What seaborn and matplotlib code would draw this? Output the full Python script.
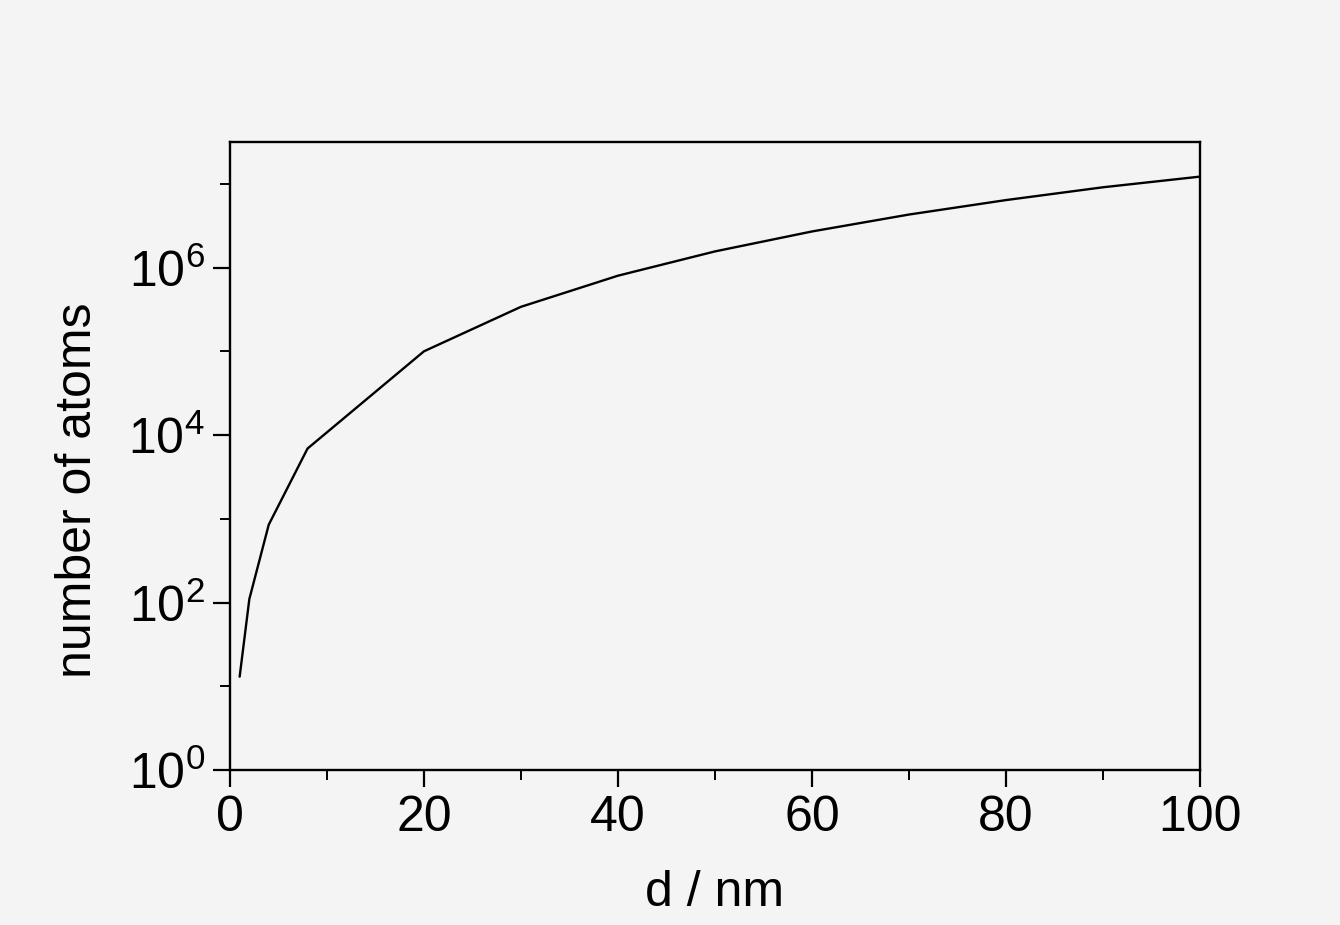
import seaborn as sns
import matplotlib
matplotlib.use('Agg')
import matplotlib.pyplot as plt
from matplotlib.ticker import LogLocator, FixedLocator, MultipleLocator, NullFormatter

# particle diameter (nm) and number of atoms
d_nm = [1, 2, 4, 8, 20, 30, 40, 50, 60, 70, 80, 90, 100]
n_atoms = [13, 110, 850, 6900, 1.0e5, 3.4e5, 8.0e5, 1.56e6, 2.7e6, 4.3e6, 6.4e6, 9.1e6, 1.22e7]

sns.set_style('ticks')
plt.rcParams['font.family'] = ['Liberation Sans', 'DejaVu Sans']
plt.rcParams['mathtext.fontset'] = 'custom'
plt.rcParams['mathtext.rm'] = 'Liberation Sans'
plt.rcParams['mathtext.default'] = 'regular'
plt.rcParams['text.color'] = 'black'
plt.rcParams['axes.labelcolor'] = 'black'

bg = '#f4f4f4'
fig = plt.figure(figsize=(13.4, 9.25), dpi=100, facecolor=bg)
ax = fig.add_axes([0.1716, 0.1676, 0.7239, 0.6789])
ax.set_facecolor(bg)

sns.lineplot(x=d_nm, y=n_atoms, color='black', linewidth=1.7, ax=ax)

ax.set_yscale('log')
ax.set_xlim(0, 100)
ax.set_ylim(1, 10 ** 7.5)

ax.xaxis.set_major_locator(MultipleLocator(20))
ax.xaxis.set_minor_locator(MultipleLocator(10))
ax.yaxis.set_major_locator(LogLocator(base=100))
ax.yaxis.set_minor_locator(FixedLocator([1e1, 1e3, 1e5, 1e7]))
ax.yaxis.set_minor_formatter(NullFormatter())

for s in ax.spines.values():
    s.set_linewidth(1.7)
    s.set_color('black')

ax.tick_params(which='major', direction='out', length=12, width=1.6,
               labelsize=36, pad=6, colors='black')
ax.tick_params(which='minor', direction='out', length=7, width=1.4, colors='black')

ax.set_xlabel('d / nm', fontsize=36, labelpad=21)
ax.set_ylabel('number of atoms', fontsize=36)
ax.yaxis.set_label_coords(-0.133, 0.446)

fig.savefig('out.png', dpi=100, facecolor=bg)
